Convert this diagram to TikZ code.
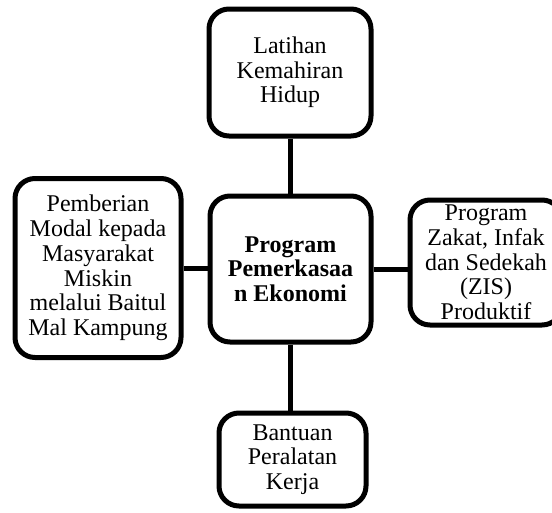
\documentclass[tikz,border=0pt]{standalone}
\usepackage{fontspec}
\setmainfont{Liberation Serif}
\begin{document}
\begin{tikzpicture}[x=1pt,y=-1pt,
  box/.style={draw=black,line width=5pt,rounded corners=20pt,fill=white,
    align=center,inner sep=0pt,font=\fontsize{24}{24.7}\selectfont},
  link/.style={draw=black,line width=5pt}]
\useasboundingbox (0,0) rectangle (552,512);
\node[box,minimum width=162pt,minimum height=127pt] (top) at (290,72.5) {Latihan\\Kemahiran\\Hidup};
\node[box,minimum width=161pt,minimum height=146pt,font=\fontsize{24}{24.7}\selectfont\bfseries] (mid) at (290.5,269) {Program\\Pemerkasaa\\n Ekonomi};
\node[box,minimum width=166pt,minimum height=179pt] (left) at (98,268) {Pemberian\\Modal kepada\\Masyarakat\\Miskin\\melalui Baitul\\Mal Kampung};
\node[box,minimum width=152pt,minimum height=125pt] (right) at (486,262.5) {Program\\Zakat, Infak\\dan Sedekah\\(ZIS)\\Produktif};
\node[box,minimum width=147pt,minimum height=93pt] (bot) at (292.5,459.5) {Bantuan\\Peralatan\\Kerja};
\draw[link] (top.south -| mid.north) -- (mid.north);
\draw[link] (mid.south) -- (mid.south |- bot.north);
\draw[link] (left.east) -- (left.east -| mid.west);
\draw[link] (mid.east) -- (mid.east -| right.west);
\end{tikzpicture}
\end{document}
